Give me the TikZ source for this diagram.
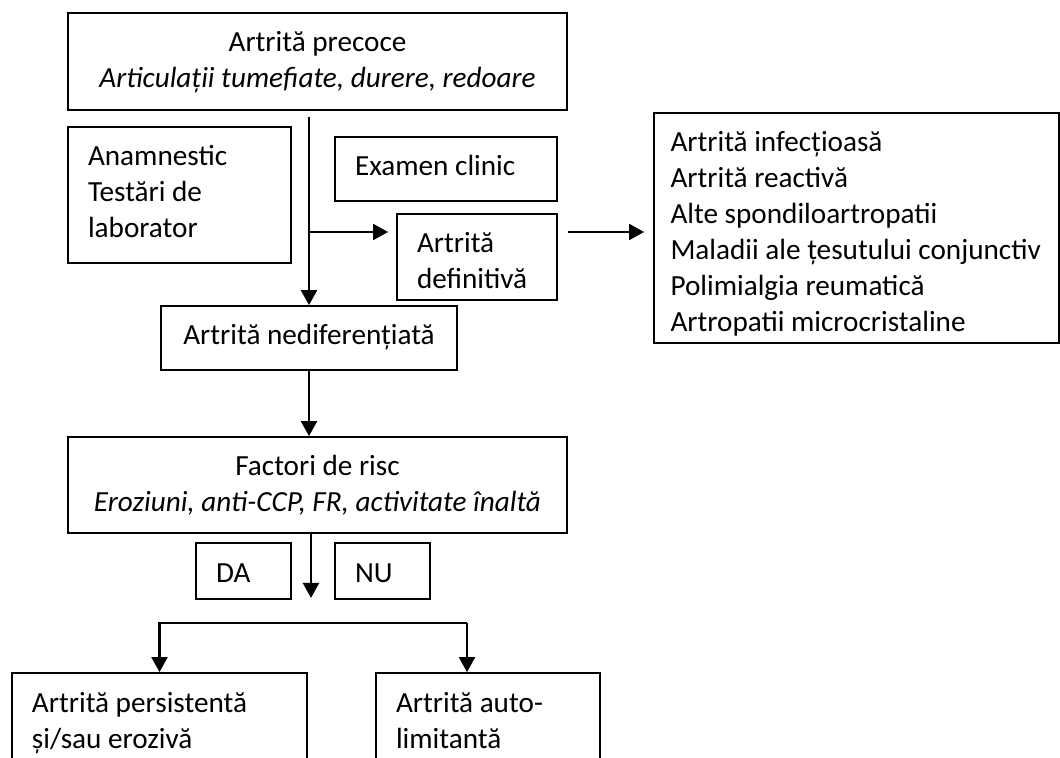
\documentclass[tikz,border=0pt]{standalone}
\usepackage{fontspec}
\setmainfont{Carlito}
\usetikzlibrary{arrows.meta}
\tikzset{box/.style={draw,line width=0.9pt,inner xsep=10pt,inner ysep=0pt,text height=19.5pt,font=\fontsize{14.6}{18}\selectfont}}
\tikzset{lbox/.style={box,align=flush left}}
\tikzset{cbox/.style={box,align=flush center}}
\tikzset{arr/.style={line width=1.1pt,-{Triangle[width=8pt,length=7.5pt]}}}

\begin{document}
\begin{tikzpicture}[x=0.5pt,y=-0.5pt]
    \useasboundingbox (0,0) rectangle (1060,758);
    \clip (0,0) rectangle (1060,758);

    \node[cbox, text width=241.5pt, inner xsep=4pt, text depth=29pt] at (317.5,61.5) (top) {Artrită precoce\\ \textit{Articulații tumefiate, durere, redoare}};
    \node[lbox, text width=91.5pt, text depth=48.5pt] at (179.5,195) (anam) {Anamnestic\\Testări de\\laborator};
    \node[lbox, text width=91pt, text depth=12.5pt] at (446,169) (exam) {Examen clinic};
    \node[lbox, text width=60pt, text depth=23.5pt] at (477,257) (def) {Artrită\\definitivă};
    \node[lbox, text width=186pt, inner xsep=8.25pt, text depth=95.5pt] at (856.5,228) (list) {Artrită infecțioasă\\Artrită reactivă\\Alte spondiloartropatii\\Maladii ale țesutului conjunctiv\\Polimialgia reumatică\\Artropatii microcristaline};
    \node[cbox, text width=132pt, inner xsep=8pt, text depth=12.5pt] at (309,338) (nedif) {Artrită nediferențiată};
    \node[cbox, text width=241.5pt, inner xsep=4pt, text depth=28.5pt] at (317.5,485) (factori) {Factori de risc\\ \textit{Eroziuni, anti-CCP, FR, activitate înaltă}};
    \node[lbox, text width=27.5pt, text depth=8.5pt] at (243.5,571) (da) {DA};
    \node[lbox, text width=27.5pt, text depth=8.5pt] at (382.5,571) (nu) {NU};
    \node[lbox, text width=127.5pt, text depth=23.5pt] at (159.5,716) (pers) {Artrită persistentă\\și/sau erozivă};
    \node[lbox, text width=92pt, text depth=23.5pt] at (488,716) (auto) {Artrită auto-\\limitantă};

    \coordinate (fork) at (309,232);
    \coordinate (yesno) at (311,598);
    \coordinate (split) at (467,623);

    \draw[arr, shorten <=3pt] (top.south -| nedif.north) -- (nedif.north);
    \draw[arr, shorten >=4pt] (fork) -- (fork -| def.west);
    \draw[arr, shorten <=5pt, shorten >=4.5pt] (fork -| def.east) -- (fork -| list.west);
    \draw[arr] (nedif.south) -- (factori.north -| nedif.south);
    \draw[arr] (factori.south -| yesno) -- (yesno);
    \draw[arr] (split) -- (split |- auto.north);
    \draw[arr] (split) -| (pers.north);
\end{tikzpicture}
\end{document}
